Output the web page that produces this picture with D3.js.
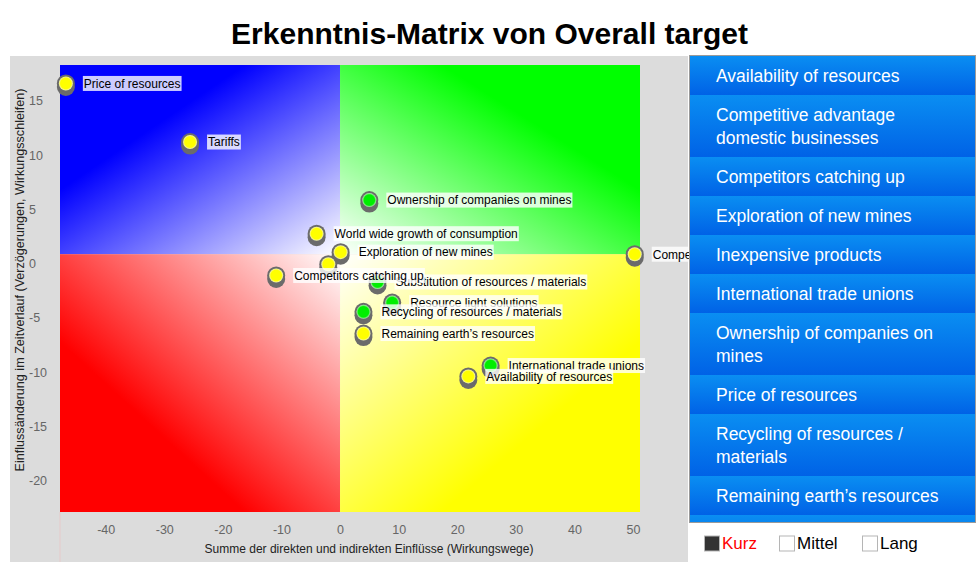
<!DOCTYPE html>
<html>
<head>
<meta charset="utf-8">
<script src="https://cdn.jsdelivr.net/npm/d3@7/dist/d3.min.js"></script>
<style>
  html, body { margin: 0; padding: 0; background: #ffffff; }
  svg { display: block; font-family: "Liberation Sans", Arial, Helvetica, sans-serif; }
</style>
</head>
<body>
<svg id="chart" width="979" height="566"></svg>
<script>
// ---------------- data ----------------
const title = "Erkenntnis-Matrix von Overall target";
const xAxisTitle = "Summe der direkten und indirekten Einflüsse (Wirkungswege)";
const yAxisTitle = "Einflussänderung im Zeitverlauf (Verzögerungen, Wirkungsschleifen)";

const factorNames = [
  "Availability of resources",
  "Competitive advantage domestic businesses",
  "Competitors catching up",
  "Exploration of new mines",
  "Inexpensive products",
  "International trade unions",
  "Ownership of companies on mines",
  "Price of resources",
  "Recycling of resources / materials",
  "Remaining earth’s resources",
  "Resource light solutions",
  "Substitution of resources / materials",
  "Tariffs",
  "World wide growth of consumption"
];
// sum of direct and indirect influences
const xValues = [21.9, 50.3, -10.9, 0.1, -2.0, 25.7, 5.0, -46.8, 4.0, 4.0, 8.9, 6.4, -25.6, -4.0];
// change of influence over time
const yValues = [-10.4, 0.86, -1.1, 1.05, -0.06, -9.4, 5.85, 16.6, -4.45, -6.45, -3.6, -1.7, 11.2, 2.75];
// point colour class
const pointKind = ["yellow", "yellow", "yellow", "yellow", "yellow", "green", "green", "yellow", "green", "yellow", "green", "green", "yellow", "yellow"];
// labels that are shown in the plot
const labelShown = [true, true, true, true, false, true, true, true, true, true, true, true, true, true];

const xTicks = [-40, -30, -20, -10, 0, 10, 20, 30, 40, 50];
const yTicks = [15, 10, 5, 0, -5, -10, -15, -20];
const xDomain = [-47.8, 51.2];
const yDomain = [-22.9, 18.3];
const xSplit = 0;
const ySplit = 0.86;

const horizonLabels = ["Kurz", "Mittel", "Lang"];
const horizonActive = [true, false, false];

// ---------------- layout ----------------
const svg = d3.select("#chart");
const W = 979, H = 566;
const plot = {left: 60, right: 640, top: 65, bottom: 512};

const x = d3.scaleLinear().domain(xDomain).range([plot.left, plot.right]);
const y = d3.scaleLinear().domain(yDomain).range([plot.bottom, plot.top]);

const defs = svg.append("defs");

// gradients for quadrants: saturated at the outer corner, white toward centre
function quadGrad(id, color, x1, y1, x2, y2) {
  const g = defs.append("linearGradient").attr("id", id)
    .attr("x1", x1).attr("y1", y1).attr("x2", x2).attr("y2", y2);
  g.append("stop").attr("offset", "0").attr("stop-color", color);
  g.append("stop").attr("offset", "0.33").attr("stop-color", color);
  g.append("stop").attr("offset", "1").attr("stop-color", "#ffffff");
}
quadGrad("gBlue", "#0000ff", 0, 0, 1, 1);
quadGrad("gGreen", "#00ff00", 1, 0, 0, 1);
quadGrad("gRed", "#ff0000", 0, 1, 1, 0);
quadGrad("gYellow", "#ffff00", 1, 1, 0, 0);

const legGrad = defs.append("linearGradient").attr("id", "gLeg")
  .attr("x1", 0).attr("y1", 0).attr("x2", 0).attr("y2", 1);
legGrad.append("stop").attr("offset", "0").attr("stop-color", "#0a8ef2");
legGrad.append("stop").attr("offset", "1").attr("stop-color", "#0062e6");

const ringG = defs.append("radialGradient").attr("id", "rYellow");
ringG.append("stop").attr("offset", "0.75").attr("stop-color", "#ffff00");
ringG.append("stop").attr("offset", "1").attr("stop-color", "#f4f4b8");
const ringGr = defs.append("radialGradient").attr("id", "rGreen");
ringGr.append("stop").attr("offset", "0.75").attr("stop-color", "#00ee00");
ringGr.append("stop").attr("offset", "1").attr("stop-color", "#b8f0b8");

defs.append("clipPath").attr("id", "legClip")
  .append("rect").attr("x", 690).attr("y", 56).attr("width", 285).attr("height", 466);

// title
svg.append("text")
  .attr("x", W / 2).attr("y", 44)
  .attr("text-anchor", "middle")
  .attr("font-size", 30).attr("font-weight", "bold").attr("fill", "#000")
  .text(title);

// gray panel
svg.append("rect").attr("x", 10).attr("y", 56).attr("width", 678).attr("height", 506)
  .attr("fill", "#dcdcdc");

// quadrants
const xs = x(xSplit), ys = y(ySplit);
svg.append("rect").attr("x", plot.left).attr("y", plot.top).attr("width", xs - plot.left).attr("height", ys - plot.top).attr("fill", "url(#gBlue)");
svg.append("rect").attr("x", xs).attr("y", plot.top).attr("width", plot.right - xs).attr("height", ys - plot.top).attr("fill", "url(#gGreen)");
svg.append("rect").attr("x", plot.left).attr("y", ys).attr("width", xs - plot.left).attr("height", plot.bottom - ys).attr("fill", "url(#gRed)");
svg.append("rect").attr("x", xs).attr("y", ys).attr("width", plot.right - xs).attr("height", plot.bottom - ys).attr("fill", "url(#gYellow)");

// faint axis line below plot
svg.append("line").attr("x1", plot.left).attr("x2", plot.left).attr("y1", plot.bottom).attr("y2", 562)
  .attr("stroke", "#e6caca").attr("stroke-width", 1);

// axes
const xAxis = svg.append("g").attr("transform", `translate(0,${plot.bottom})`)
  .call(d3.axisBottom(x).tickValues(xTicks).tickSize(0).tickPadding(13).tickFormat(d => String(d)));
xAxis.select(".domain").remove();
xAxis.selectAll("text").attr("font-size", 12.5).attr("fill", "#666").attr("font-family", "Liberation Sans, Arial, sans-serif");

const yAxis = svg.append("g").attr("transform", `translate(${plot.left},0)`)
  .call(d3.axisLeft(y).tickValues(yTicks).tickSize(0).tickFormat(d => String(d)));
yAxis.select(".domain").remove();
yAxis.selectAll("text").attr("text-anchor", "start").attr("x", 29 - plot.left)
  .attr("font-size", 12.5).attr("fill", "#666").attr("font-family", "Liberation Sans, Arial, sans-serif");

// axis titles
svg.append("text").attr("x", 369).attr("y", 553).attr("text-anchor", "middle")
  .attr("font-size", 12).attr("fill", "#222").text(xAxisTitle);
svg.append("text").attr("transform", "translate(24,280) rotate(-90)").attr("text-anchor", "middle")
  .attr("font-size", 12.6).attr("fill", "#222").text(yAxisTitle);

// points
const items = factorNames.map((n, i) => ({name: n, x: xValues[i], y: yValues[i], kind: pointKind[i], show: labelShown[i]}));
const ptG = svg.append("g");
items.forEach(d => {
  const cx = x(d.x), cy = y(d.y);
  ptG.append("circle").attr("cx", cx).attr("cy", cy + 3.5).attr("r", 9).attr("fill", "#6b6b6b");
  ptG.append("circle").attr("cx", cx).attr("cy", cy).attr("r", 9).attr("fill", "#6b6b6b");
  ptG.append("circle").attr("cx", cx).attr("cy", cy).attr("r", 7)
    .attr("fill", d.kind === "yellow" ? "url(#rYellow)" : "url(#rGreen)");
});

// labels (drawn in reverse alphabetical order)
const lblG = svg.append("g");
items.slice().reverse().filter(d => d.show).forEach(d => {
  const cx = x(d.x), cy = y(d.y);
  const g = lblG.append("g");
  const t = g.append("text").attr("x", cx + 18).attr("y", cy + 4.3)
    .attr("font-size", 12).attr("fill", "#000").text(d.name);
  const bb = t.node().getBBox();
  g.insert("rect", "text").attr("x", bb.x - 1).attr("y", cy - 7.5).attr("width", bb.width + 2).attr("height", 15)
    .attr("fill", "#ffffff").attr("fill-opacity", 0.8);
});

// legend panel
svg.append("rect").attr("x", 689).attr("y", 55).attr("width", 287).attr("height", 468).attr("fill", "#9a9a9a");
const leg = svg.append("g").attr("clip-path", "url(#legClip)");
leg.append("rect").attr("x", 690).attr("y", 56).attr("width", 285).attr("height", 466).attr("fill", "#0a8ef2");

const maxW = 245;
let yPos = 56;
factorNames.forEach(name => {
  // wrap words
  const tmp = svg.append("text").attr("font-size", 17.5);
  const words = name.split(" ");
  const lines = [];
  let cur = "";
  words.forEach(w => {
    const test = cur ? cur + " " + w : w;
    tmp.text(test);
    if (tmp.node().getComputedTextLength() > maxW && cur) { lines.push(cur); cur = w; }
    else cur = test;
  });
  lines.push(cur);
  tmp.remove();
  const h = 16 + lines.length * 23;
  const g = leg.append("g");
  g.append("rect").attr("x", 690).attr("y", yPos).attr("width", 285).attr("height", h).attr("fill", "url(#gLeg)");
  lines.forEach((ln, k) => {
    g.append("text").attr("x", 716).attr("y", yPos + 26 + k * 23)
      .attr("font-size", 17.5).attr("fill", "#ffffff").text(ln);
  });
  yPos += h;
});

// horizon legend
const hx = [704, 779, 862];
horizonLabels.forEach((lab, i) => {
  svg.append("rect").attr("x", hx[i] + 0.5).attr("y", 536).attr("width", 15).attr("height", 15)
    .attr("fill", horizonActive[i] ? "#333333" : "#ffffff").attr("stroke", "#b5b5b5").attr("stroke-width", 1);
  svg.append("text").attr("x", hx[i] + 18).attr("y", 549).attr("font-size", 17)
    .attr("fill", horizonActive[i] ? "#ff0000" : "#000000").text(lab);
});
</script>
</body>
</html>
